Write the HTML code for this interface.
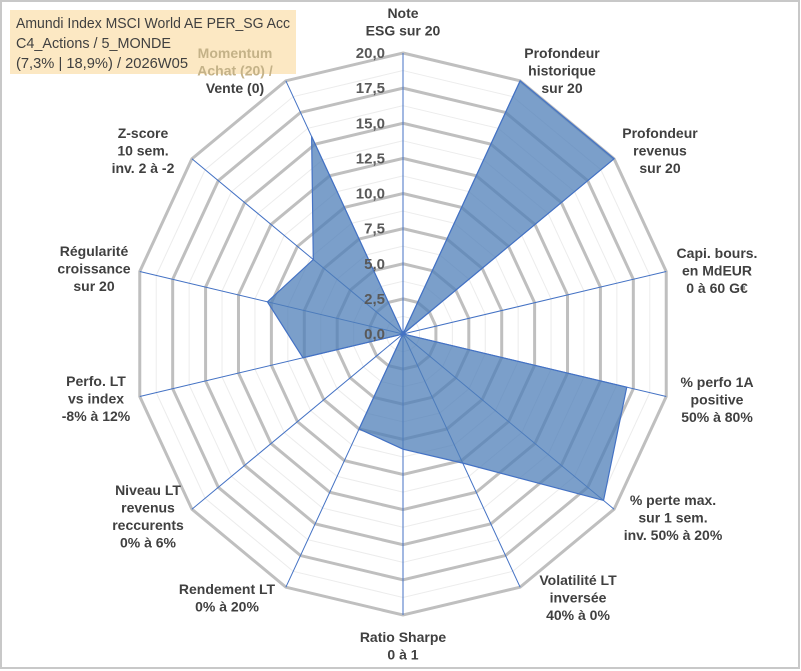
<!DOCTYPE html>
<html><head><meta charset="utf-8"><style>
html,body{margin:0;padding:0;background:#fff;}
#wrap{position:relative;width:801px;height:671px;overflow:hidden;font-family:"Liberation Sans",Arial,sans-serif;}
svg{position:absolute;left:0;top:0;}
</style></head><body>
<div id="wrap">
<svg id="chart" width="801" height="671" viewBox="0 0 801 671">
<rect x="1" y="1" width="798" height="667" fill="#fff" stroke="#c8c8c8" stroke-width="2"/>
<rect x="10" y="10" width="286" height="64" fill="#fce8c3"/>
<text x="16" y="28" font-size="15" fill="#404040" textLength="274" lengthAdjust="spacingAndGlyphs">Amundi Index MSCI World AE PER_SG Acc</text>
<text x="16" y="48" font-size="15" fill="#404040" textLength="155" lengthAdjust="spacingAndGlyphs">C4_Actions / 5_MONDE</text>
<text x="16" y="68" font-size="15" fill="#404040" textLength="172" lengthAdjust="spacingAndGlyphs">(7,3% | 18,9%) / 2026W05</text>
<g id="grid"></g><g id="spokes"></g><g id="series"></g><g id="ticks"></g><g id="labels"></g>
</svg>
</div>
<script>
const categories = [["Note","ESG sur 20"],["Profondeur","historique","sur 20"],["Profondeur","revenus","sur 20"],["Capi. bours.","en MdEUR","0 à 60 G€"],["% perfo 1A","positive","50% à 80%"],["% perte max.","sur 1 sem.","inv. 50% à 20%"],["Volatilité LT","inversée","40% à 0%"],["Ratio Sharpe","0 à 1"],["Rendement LT","0% à 20%"],["Niveau LT","revenus","reccurents","0% à 6%"],["Perfo. LT","vs index","-8% à 12%"],["Régularité","croissance","sur 20"],["Z-score","10 sem.","inv. 2 à -2"],["Momentum","Achat (20) /","Vente (0)"]];
const seriesValues = [0,20,20,0,17,19,10.2,8.2,7.5,0,7.6,10.3,8.5,15.6];
const tickValues = [0,2.5,5,7.5,10,12.5,15,17.5,20];
const tickLabels = ["0,0","2,5","5,0","7,5","10,0","12,5","15,0","17,5","20,0"];
const labelAnchors = [[403,13],[562,53],[660,133],[717,253],[717,382],[673,500],[578,580],[403,637],[227,589],[148,490],[96,381],[94,251],[143,133],[235,53]];
const NS="http://www.w3.org/2000/svg";
const cx=403, cy=334, rx=270, ry=281, vmax=20, N=categories.length;
function pt(i,v){const a=2*Math.PI*i/N;return [cx+rx*(v/vmax)*Math.sin(a), cy-ry*(v/vmax)*Math.cos(a)];}
function mk(tag,attrs,parent){const e=document.createElementNS(NS,tag);for(const k in attrs)e.setAttribute(k,attrs[k]);parent.appendChild(e);return e;}
const grid=document.getElementById('grid');
for(let s=1;s<=16;s++){const v=s*1.25;const major=s%2===0;
 const pts=[];for(let i=0;i<N;i++)pts.push(pt(i,v).join(','));
 const p=mk('polygon',{points:pts.join(' '),fill:'none',stroke:major?'#bfbfbf':'#ececec','stroke-width':major?3:1},grid);
 
 }
const spokes=document.getElementById('spokes');
for(let i=0;i<N;i++){const e=pt(i,vmax);
 const l=mk('line',{x1:cx,y1:cy,x2:e[0],y2:e[1],stroke:'#4472c4','stroke-width':1},spokes);
 
 }
const ser=document.getElementById('series');
const sp=seriesValues.map((v,i)=>pt(i,v).join(',')).join(' ');
const poly=mk('polygon',{points:sp,fill:'#4f7fb8','fill-opacity':0.75,stroke:'#4472c4','stroke-width':1.2},ser);


const ticks=document.getElementById('ticks');
tickValues.forEach((v,i)=>{const p=pt(0,v);
 const t=mk('text',{x:385,y:p[1]+5,'text-anchor':'end','font-size':15,'font-weight':'bold',fill:'#595959'},ticks);
 t.textContent=tickLabels[i];
 
 });
const labs=document.getElementById('labels');
categories.forEach((lines,i)=>{const a=labelAnchors[i];
 lines.forEach((s,j)=>{const t=mk('text',{x:a[0],y:a[1]+j*17.5+5,'text-anchor':'middle','font-size':14,'font-weight':'bold',fill:(i===13&&j<2)?'#c4b288':'#404040'},labs);
  t.textContent=s;
  
  });});
</script>
</body></html>
